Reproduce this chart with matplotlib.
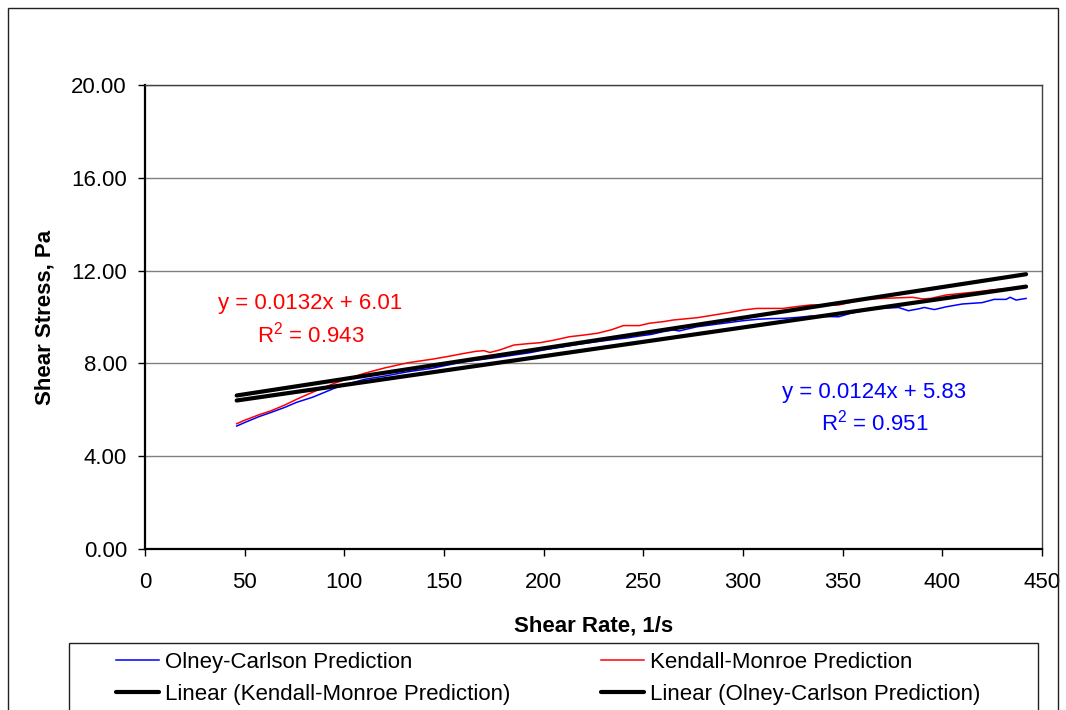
import numpy as np
import matplotlib.pyplot as plt
from matplotlib.patches import Rectangle

plt.rcParams['font.family'] = ['Liberation Sans', 'DejaVu Sans']
plt.rcParams['mathtext.fontset'] = 'custom'
plt.rcParams['mathtext.rm'] = 'Liberation Sans'
plt.rcParams['mathtext.it'] = 'Liberation Sans:italic'

# Olney-Carlson prediction (blue)
oc_x = [46, 50, 57, 63, 70, 76, 84, 90, 95, 102, 110, 120, 132, 144, 152, 160,
        168, 177, 185, 193, 200, 210, 218, 227, 235, 242, 248, 254, 260, 265,
        268, 277, 285, 293, 300, 307, 314, 320, 327, 334, 341, 348, 354, 362,
        369, 378, 383, 388, 391, 396, 402, 410, 420, 426, 432, 434, 437, 442]
oc_y = [5.30, 5.45, 5.70, 5.88, 6.10, 6.32, 6.54, 6.75, 6.93, 7.12, 7.31, 7.45,
        7.64, 7.79, 7.93, 8.07, 8.16, 8.26, 8.36, 8.46, 8.58, 8.72, 8.83, 8.94,
        9.03, 9.10, 9.18, 9.25, 9.37, 9.44, 9.40, 9.58, 9.67, 9.76, 9.84, 9.90,
        9.93, 9.94, 9.98, 10.04, 10.02, 10.01, 10.16, 10.30, 10.37, 10.41,
        10.27, 10.35, 10.41, 10.32, 10.44, 10.56, 10.62, 10.76, 10.76, 10.85,
        10.73, 10.80]

# Kendall-Monroe prediction (red)
km_x = [46, 50, 57, 63, 70, 76, 82, 88, 95, 102, 110, 120, 132, 144, 152, 160,
        166, 170, 173, 178, 185, 192, 198, 205, 213, 220, 227, 234, 240, 248,
        253, 260, 265, 271, 277, 285, 293, 300, 307, 314, 320, 327, 334, 341,
        348, 355, 360, 370, 385, 390, 394, 402, 410, 417, 424, 434]
km_y = [5.40, 5.55, 5.78, 5.95, 6.20, 6.45, 6.68, 6.90, 7.14, 7.35, 7.57, 7.80,
        8.03, 8.18, 8.30, 8.43, 8.52, 8.55, 8.47, 8.58, 8.79, 8.85, 8.89, 9.00,
        9.15, 9.22, 9.30, 9.45, 9.63, 9.63, 9.73, 9.80, 9.87, 9.92, 9.97, 10.08,
        10.19, 10.30, 10.37, 10.37, 10.37, 10.45, 10.52, 10.52, 10.52, 10.65,
        10.76, 10.80, 10.85, 10.78, 10.80, 10.95, 11.02, 11.08, 11.16, 11.24]

# trendline coefficients as printed on the chart
km_slope, km_icpt, km_r2 = 0.0132, 6.01, 0.943
oc_slope, oc_icpt, oc_r2 = 0.0124, 5.83, 0.951

fig = plt.figure(figsize=(10.66, 7.10), dpi=100)
ax = fig.add_axes([145/1066, 1-549/710, (1042-145)/1066, (549-85)/710])

l_oc, = ax.plot(oc_x, oc_y, color='#0000ff', lw=1.1)
l_km, = ax.plot(km_x, km_y, color='#ff0000', lw=1.1)

xt = np.array([min(oc_x), max(oc_x)])
l_tkm, = ax.plot(xt, km_slope*xt + km_icpt, color='black', lw=3, solid_capstyle='round')
l_toc, = ax.plot(xt, oc_slope*xt + oc_icpt, color='black', lw=3, solid_capstyle='round')

ax.text(83, 9.85, 'y = %.4fx + %.2f\nR$^2$ = %.3f' % (km_slope, km_icpt, km_r2),
        color='#ff0000', fontsize=16, ha='center', va='center', multialignment='center',
        linespacing=1.35)
ax.text(366, 6.05, 'y = %.4fx + %.2f\nR$^2$ = %.3f' % (oc_slope, oc_icpt, oc_r2),
        color='#0000ff', fontsize=16, ha='center', va='center', multialignment='center',
        linespacing=1.35)

ax.set_xlim(0, 450)
ax.set_ylim(0, 20)
ax.set_xticks(np.arange(0, 451, 50))
ax.set_yticks(np.arange(0, 20.01, 4))
ax.set_yticklabels(['%.2f' % v for v in np.arange(0, 20.01, 4)])
ax.yaxis.grid(True, color='#808080', lw=1)
ax.set_axisbelow(True)
ax.tick_params(direction='out', length=5, width=1, labelsize=16, pad=8)
ax.tick_params(axis='x', pad=11.5)
for s in ['left', 'bottom']:
    ax.spines[s].set_linewidth(1.6)
for s in ['top', 'right']:
    ax.spines[s].set_linewidth(1)
    ax.spines[s].set_color('#404040')

ax.set_xlabel('Shear Rate, 1/s', fontsize=16, fontweight='bold', labelpad=16)
ax.set_ylabel('Shear Stress, Pa', fontsize=16, fontweight='bold', labelpad=11)

# outer chart border and legend box (both run past the bottom edge)
fig.patches.append(Rectangle((8/1066, -0.1), 1050/1066, 1.1 - 8/710, transform=fig.transFigure,
                             fill=False, edgecolor='#202020', lw=1))
fig.patches.append(Rectangle((69/1066, -0.1), 969/1066, 0.1 + 1 - 643/710, transform=fig.transFigure,
                             fill=False, edgecolor='#202020', lw=1))

fig.legend([l_oc, l_tkm, l_km, l_toc],
           ['Olney-Carlson Prediction', 'Linear (Kendall-Monroe Prediction)',
            'Kendall-Monroe Prediction', 'Linear (Olney-Carlson Prediction)'],
           ncol=2, loc='upper left', bbox_to_anchor=(100/1066, 1-636/710),
           frameon=False, fontsize=16, handlelength=1.94, handletextpad=0.27,
           columnspacing=4.1, labelspacing=0.52, borderpad=0.2)

fig.savefig('out.png', dpi=100)
